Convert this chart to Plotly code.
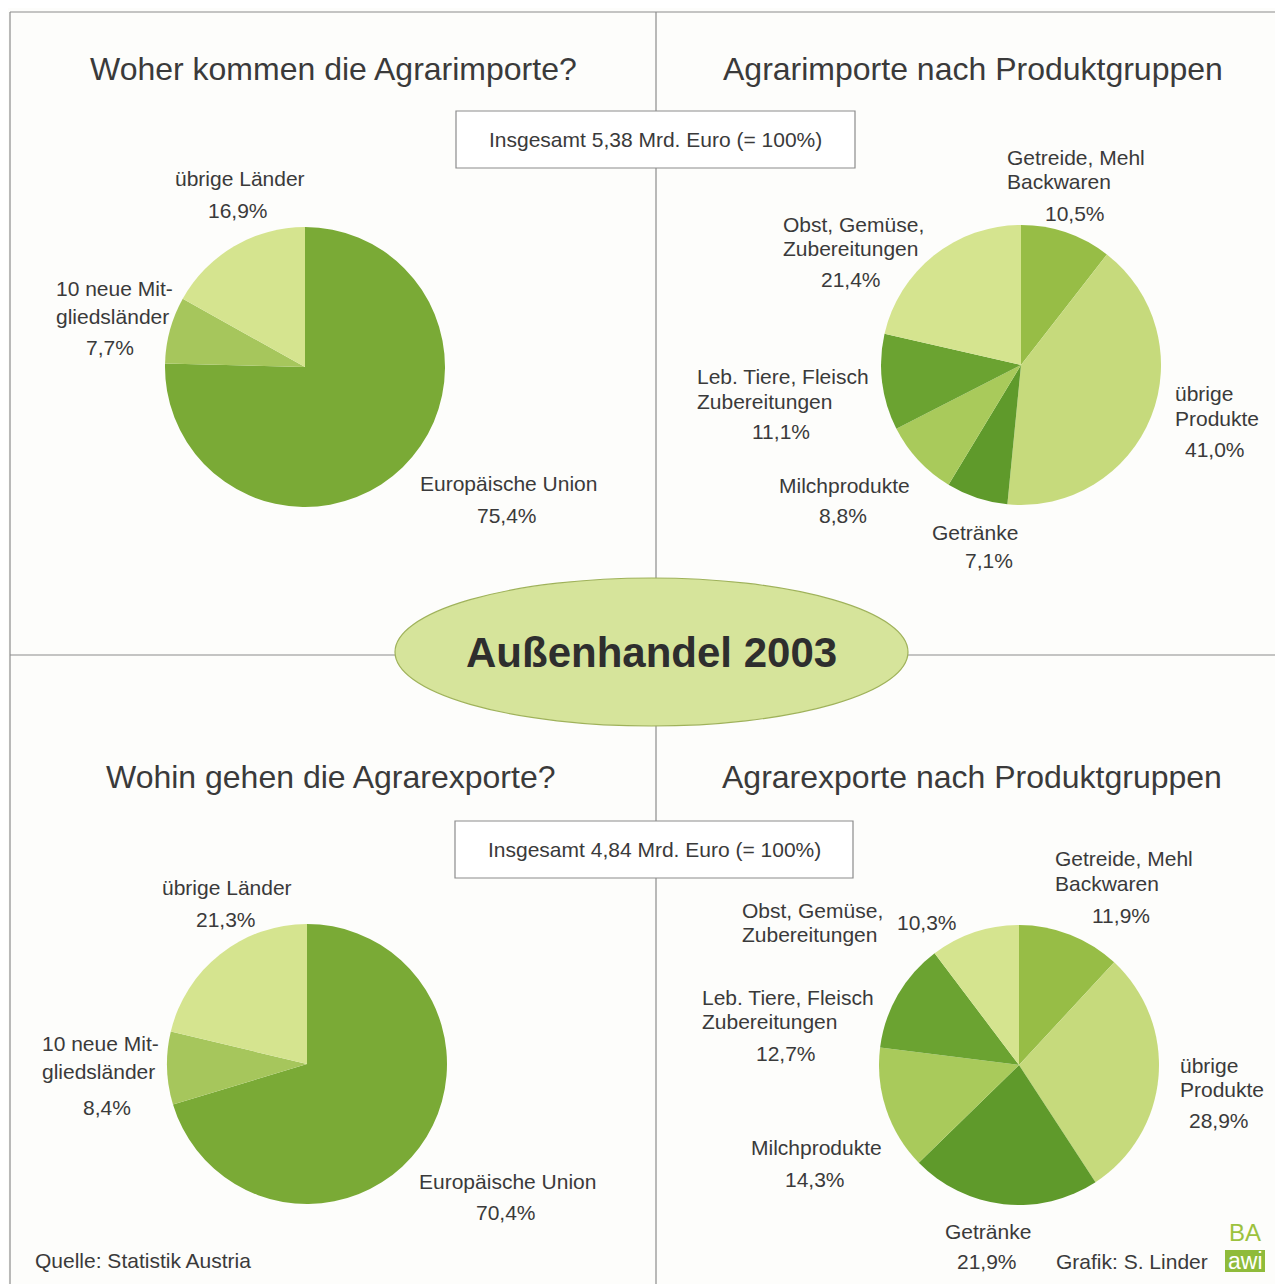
import plotly.graph_objects as go

W, H = 1283, 1284
OFF = 8  # browser body margin
FW, FH = W - OFF, H - OFF

# ---------------- data ----------------
imp_region_labels = ["Europäische Union", "10 neue Mit-\ngliedsländer", "übrige Länder"]
imp_region_values = [75.4, 7.7, 16.9]

imp_product_labels = ["Getreide, Mehl\nBackwaren", "übrige\nProdukte", "Getränke",
                      "Milchprodukte", "Leb. Tiere, Fleisch\nZubereitungen", "Obst, Gemüse,\nZubereitungen"]
imp_product_values = [10.5, 41.0, 7.1, 8.8, 11.1, 21.4]

exp_region_labels = ["Europäische Union", "10 neue Mit-\ngliedsländer", "übrige Länder"]
exp_region_values = [70.4, 8.4, 21.3]

exp_product_labels = ["Getreide, Mehl\nBackwaren", "übrige\nProdukte", "Getränke",
                      "Milchprodukte", "Leb. Tiere, Fleisch\nZubereitungen", "Obst, Gemüse,\nZubereitungen"]
exp_product_values = [11.9, 28.9, 21.9, 14.3, 12.7, 10.3]

titles = ["Woher kommen die Agrarimporte?", "Agrarimporte nach Produktgruppen",
          "Wohin gehen die Agrarexporte?", "Agrarexporte nach Produktgruppen"]
totals = ["Insgesamt 5,38 Mrd. Euro (= 100%)", "Insgesamt 4,84 Mrd. Euro (= 100%)"]
main_title = "Außenhandel 2003"
source = "Quelle: Statistik Austria"
credit = "Grafik: S. Linder"

# ---------------- styling ----------------
region_colors = ["#7aaa36", "#a6c65c", "#d5e48f"]
product_colors = ["#97bd46", "#c6da7c", "#5f9a2b", "#a9ca5b", "#6ba331", "#d5e48f"]
FONT = "Liberation Sans, Arial, sans-serif"
TXT = "#3a3a3a"

def fx(px):
    return (px - OFF) / FW

def fy(py):
    return 1 - (py - OFF) / FH

fig = go.Figure()

def add_pie(labels, values, colors, cx, cy, r):
    fig.add_trace(go.Pie(
        labels=[l.replace("\n", " ") for l in labels], values=values,
        marker=dict(colors=colors, line=dict(width=0)),
        sort=False, direction="clockwise", rotation=0,
        textinfo="none", showlegend=False,
        domain=dict(x=[fx(cx - r), fx(cx + r)], y=[fy(cy + r), fy(cy - r)]),
        hovertemplate="%{label}: %{value:.1f}%<extra></extra>",
    ))

add_pie(imp_region_labels, imp_region_values, region_colors, 305, 367, 140)
add_pie(imp_product_labels, imp_product_values, product_colors, 1021, 365, 140)
add_pie(exp_region_labels, exp_region_values, region_colors, 307, 1064, 140)
add_pie(exp_product_labels, exp_product_values, product_colors, 1019, 1065, 140)

ann = []

def text(t, x, y, size=21, anchor="center", bold=False, color=TXT):
    ann.append(dict(text=(f"<b>{t}</b>" if bold else t), x=fx(x), y=fy(y), xref="paper", yref="paper",
                    xanchor=anchor, yanchor="middle", showarrow=False,
                    font=dict(family=FONT, size=size, color=color)))

def pct(v):
    return f"{v:.1f}".replace(".", ",") + "%"

# label layouts: (left x of name, first line y, line gap, pct x, pct y)
imp_region_pos = [(418, 483, 24, 507, 515), (54, 288, 28, 110, 348), (173, 179, 24, 238, 211)]
imp_product_pos = [(1005, 157, 24, 1075, 213), (1173, 394, 24, 1215, 450), (930, 532, 24, 989, 560),
                   (777, 485, 24, 843, 516), (695, 377, 24, 781, 431), (781, 225, 24, 851, 279)]
exp_region_pos = [(417, 1181, 24, 506, 1212), (40, 1043, 28, 107, 1107), (160, 887, 24, 226, 919)]
exp_product_pos = [(1053, 859, 24, 1121, 915), (1178, 1065, 24, 1219, 1120), (943, 1231, 24, 987, 1261),
                   (749, 1147, 24, 815, 1179), (700, 997, 24, 786, 1053), (740, 910, 24, 927, 922)]

for labels, values, pos in [(imp_region_labels, imp_region_values, imp_region_pos),
                            (imp_product_labels, imp_product_values, imp_product_pos),
                            (exp_region_labels, exp_region_values, exp_region_pos),
                            (exp_product_labels, exp_product_values, exp_product_pos)]:
    for lab, v, (lx, ly, gap, px_, py_) in zip(labels, values, pos):
        for i, line in enumerate(lab.split("\n")):
            text(line, lx, ly + i * gap, anchor="left")
        text(pct(v), px_, py_)

# titles
text(titles[0], 333, 69, size=32)
text(titles[1], 973, 69, size=32)
text(titles[2], 331, 777, size=32)
text(titles[3], 972, 777, size=32)

# totals boxes
text(totals[0], 655, 140, size=21)
text(totals[1], 654, 850, size=21)

text(main_title, 651, 653, size=42, bold=True, color="#2e2e2e")
text(source, 33, 1260, size=21, anchor="left")
text(credit, 1054, 1261, size=21, anchor="left")
text("BA", 1245, 1232, size=24, color="#9cc23e")
text("awi", 1245, 1261, size=23, color="#ffffff")

shapes = []
LINE = dict(color="#8c8c8c", width=1.2)

def line(x0, y0, x1, y1):
    shapes.append(dict(type="line", xref="paper", yref="paper", x0=fx(x0), y0=fy(y0), x1=fx(x1), y1=fy(y1),
                       line=LINE, layer="below"))

line(10, 12, 1283, 12)
line(10, 12, 10, 1284)
line(656, 12, 656, 1284)
line(10, 655, 1283, 655)

def rect(x0, y0, x1, y1, fill, lc, lw=1.2):
    shapes.append(dict(type="rect", xref="paper", yref="paper", x0=fx(x0), y0=fy(y0), x1=fx(x1), y1=fy(y1),
                       fillcolor=fill, line=dict(color=lc, width=lw), layer="below"))

rect(456, 111, 855, 168, "#ffffff", "#8c8c8c")
rect(455, 821, 853, 878, "#ffffff", "#8c8c8c")
shapes.append(dict(type="circle", xref="paper", yref="paper", x0=fx(395), y0=fy(726), x1=fx(908), y1=fy(578),
                   fillcolor="#d6e49b", line=dict(color="#9fb25a", width=1.2), layer="above"))
rect(1225, 1250, 1265, 1272, "#8fbb3a", "#8fbb3a", 0)

fig.update_layout(
    width=FW, height=FH, margin=dict(l=0, r=0, t=0, b=0),
    paper_bgcolor="#fdfdfb", plot_bgcolor="#fdfdfb",
    annotations=ann, shapes=shapes,
    xaxis=dict(visible=False), yaxis=dict(visible=False),
)

fig.write_html("out.html")
